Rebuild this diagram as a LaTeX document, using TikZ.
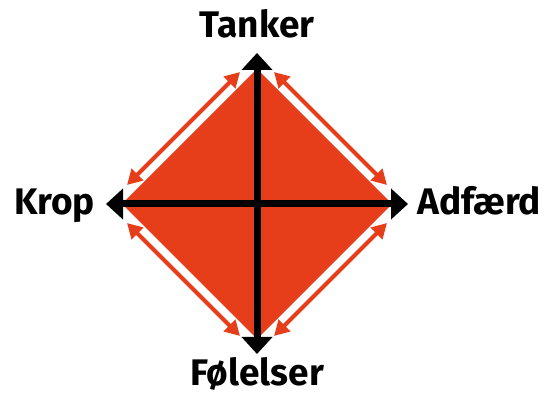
\documentclass[tikz,border=0pt]{standalone}
\usepackage{fontspec}
\setmainfont{Fira Sans}
\usetikzlibrary{arrows.meta}
\definecolor{fillred}{HTML}{E63E1A}
\tikzset{
  axis/.style={line width=7pt, draw=black, -{Triangle[length=17pt,width=30pt]}},
  sidearrow/.style={line width=4pt, draw=fillred, {Triangle[length=15pt,width=16pt]}-{Triangle[length=15pt,width=16pt]}},
  label/.style={font=\fontsize{37}{44}\selectfont\bfseries, text=black, inner sep=0pt}
}
\begin{document}
\begin{tikzpicture}[x=1pt,y=-1pt]
  \useasboundingbox (0,0) rectangle (549,395);
  % diamond vertices
  \coordinate (T) at (257,69);
  \coordinate (R) at (392,204);
  \coordinate (B) at (257,339);
  \coordinate (L) at (122,204);
  \fill[fillred] (T) -- (R) -- (B) -- (L) -- cycle;
  % axis ends
  \coordinate (AT) at (257,53);
  \coordinate (AB) at (257,354);
  \coordinate (AL) at (106,204);
  \coordinate (AR) at (408,204);
  \coordinate (C) at (257,204);
  \draw[axis] (C) -- (AT);
  \draw[axis] (C) -- (AB);
  \draw[axis] (C) -- (AL);
  \draw[axis] (C) -- (AR);
  % arrows along the sides
  \coordinate (ul1) at (127,185); \coordinate (ul2) at (240,72);
  \coordinate (ur1) at (274,72);  \coordinate (ur2) at (387,185);
  \coordinate (lr1) at (387,223); \coordinate (lr2) at (274,336);
  \coordinate (ll1) at (240,336); \coordinate (ll2) at (127,223);
  \draw[sidearrow] (ul1) -- (ul2);
  \draw[sidearrow] (ur1) -- (ur2);
  \draw[sidearrow] (lr1) -- (lr2);
  \draw[sidearrow] (ll1) -- (ll2);
  % labels
  \node[label, anchor=base] (tanker) at (257,38) {Tanker};
  \node[label, anchor=base west] (krop) at (14,215) {Krop};
  \node[label, anchor=base west] (adfaerd) at (417,215) {Adfærd};
  \node[label, anchor=base] (folelser) at (257,385) {Følelser};
\end{tikzpicture}
\end{document}
